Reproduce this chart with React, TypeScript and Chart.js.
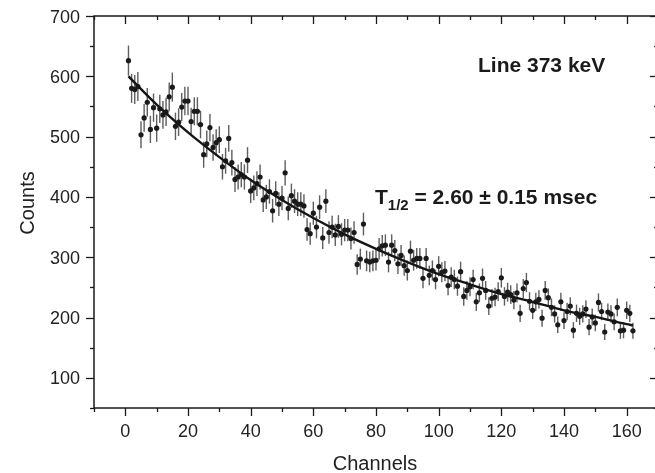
import React, { useEffect, useRef } from "react";
import { Chart, registerables } from "chart.js";
Chart.register(...registerables);

const channels = [
  1, 2, 3, 4, 5, 6, 7, 8, 9, 10, 11, 12, 13, 14, 15, 16, 17, 18, 19, 20,
  21, 22, 23, 24, 25, 26, 27, 28, 29, 30, 31, 32, 33, 34, 35, 36, 37, 38, 39, 40,
  41, 42, 43, 44, 45, 46, 47, 48, 49, 50, 51, 52, 53, 54, 55, 56, 57, 58, 59, 60,
  61, 62, 63, 64, 65, 66, 67, 68, 69, 70, 71, 72, 73, 74, 75, 76, 77, 78, 79, 80,
  81, 82, 83, 84, 85, 86, 87, 88, 89, 90, 91, 92, 93, 94, 95, 96, 97, 98, 99, 100,
  101, 102, 103, 104, 105, 106, 107, 108, 109, 110, 111, 112, 113, 114, 115, 116, 117, 118, 119, 120,
  121, 122, 123, 124, 125, 126, 127, 128, 129, 130, 131, 132, 133, 134, 135, 136, 137, 138, 139, 140,
  141, 142, 143, 144, 145, 146, 147, 148, 149, 150, 151, 152, 153, 154, 155, 156, 157, 158, 159, 160,
  161, 162,
];

const counts = [
  626, 580, 578, 583, 503, 531, 557, 512, 548, 514, 546, 536, 541, 566, 582, 517, 524, 549, 559, 559,
  525, 542, 542, 520, 470, 488, 515, 482, 490, 495, 450, 460, 497, 457, 429, 433, 437, 433, 461, 410,
  415, 422, 433, 395, 400, 409, 377, 406, 388, 398, 440, 381, 402, 393, 388, 388, 385, 346, 339, 373,
  350, 383, 332, 393, 341, 350, 337, 351, 338, 345, 345, 331, 341, 288, 297, 355, 294, 292, 294, 295,
  314, 319, 320, 292, 320, 311, 289, 303, 286, 278, 310, 295, 298, 298, 265, 298, 270, 278, 263, 285,
  275, 277, 253, 267, 263, 252, 276, 235, 245, 251, 263, 226, 241, 265, 245, 219, 232, 234, 243, 266,
  235, 242, 238, 229, 241, 207, 248, 258, 227, 212, 226, 230, 199, 245, 233, 217, 206, 188, 226, 195,
  210, 219, 179, 207, 202, 206, 214, 184, 201, 191, 225, 210, 176, 209, 206, 193, 217, 178, 179, 212,
  207, 178,
];

const fitX = [1, 10, 20, 30, 40, 50, 60, 70, 80, 90, 100, 110, 120, 130, 140, 150, 160, 162];
const fitY = [600, 553, 507, 466, 428, 395, 365, 338, 314, 292, 272, 255, 239, 226, 212, 201, 189, 187];

const xTicks = [0, 20, 40, 60, 80, 100, 120, 140, 160];
const xMinor = [-10, 10, 30, 50, 70, 90, 110, 130, 150, 170];
const yTicks = [100, 200, 300, 400, 500, 600, 700];
const yMinor = [50, 150, 250, 350, 450, 550, 650];

const FONT = '"Liberation Sans", Arial, Helvetica, sans-serif';

const framePlugin = {
  id: "frameAxes",
  beforeDatasetsDraw(chart: any) {
    const { ctx, scales } = chart;
    const x = scales.x;
    const y = scales.y;
    ctx.save();
    ctx.strokeStyle = "#5e5e5e";
    ctx.lineWidth = 1.4;
    counts.forEach((c, i) => {
      const px = x.getPixelForValue(channels[i]);
      const e = Math.sqrt(c);
      ctx.beginPath();
      ctx.moveTo(px, y.getPixelForValue(c + e));
      ctx.lineTo(px, y.getPixelForValue(c - e));
      ctx.stroke();
    });
    ctx.restore();
  },
  afterDraw(chart: any) {
    const { ctx, chartArea: a, scales } = chart;
    const x = scales.x;
    const y = scales.y;
    ctx.save();
    ctx.strokeStyle = "#1a1a1a";
    ctx.lineWidth = 1.5;
    ctx.strokeRect(a.left, a.top, a.right - a.left, a.bottom - a.top);
    ctx.lineWidth = 1.3;
    const line = (x1: number, y1: number, x2: number, y2: number) => {
      ctx.beginPath();
      ctx.moveTo(x1, y1);
      ctx.lineTo(x2, y2);
      ctx.stroke();
    };
    yTicks.forEach((v) => {
      const py = Math.round(y.getPixelForValue(v)) + 0.5;
      line(a.left - 8, py, a.left, py);
      line(a.right, py, a.right - 8, py);
    });
    yMinor.forEach((v) => {
      const py = Math.round(y.getPixelForValue(v)) + 0.5;
      line(a.left - 4, py, a.left, py);
      line(a.right, py, a.right - 4, py);
    });
    xTicks.forEach((v) => {
      const px = Math.round(x.getPixelForValue(v)) + 0.5;
      line(px, a.bottom, px, a.bottom + 8);
      line(px, a.top, px, a.top + 8);
    });
    xMinor.forEach((v) => {
      const px = Math.round(x.getPixelForValue(v)) + 0.5;
      line(px, a.bottom, px, a.bottom + 4);
      line(px, a.top, px, a.top + 4);
    });

    ctx.fillStyle = "#222";
    ctx.font = `18px ${FONT}`;
    ctx.textAlign = "right";
    ctx.textBaseline = "alphabetic";
    yTicks.forEach((v) => {
      ctx.fillText(String(v), 80, y.getPixelForValue(v) + 6.5);
    });
    ctx.textAlign = "center";
    xTicks.forEach((v) => {
      ctx.fillText(String(v), x.getPixelForValue(v), 437);
    });

    ctx.font = `20px ${FONT}`;
    ctx.fillText("Channels", 375, 469.5);
    ctx.save();
    ctx.translate(34, 203);
    ctx.rotate(-Math.PI / 2);
    ctx.fillText("Counts", 0, 0);
    ctx.restore();

    ctx.fillStyle = "#1a1a1a";
    ctx.textAlign = "left";
    ctx.font = `bold 21px ${FONT}`;
    ctx.fillText("Line 373 keV", 478, 72);

    let cx = 375;
    const base = 204;
    ctx.fillText("T", cx, base);
    cx += ctx.measureText("T").width;
    ctx.font = `bold 15px ${FONT}`;
    ctx.fillText("1/2", cx, base + 6);
    cx += ctx.measureText("1/2").width;
    ctx.font = `bold 21px ${FONT}`;
    ctx.fillText(" = 2.60 \u00b1 0.15 msec", cx, base);
    ctx.restore();
  },
};

export default function App() {
  const ref = useRef<HTMLCanvasElement | null>(null);
  useEffect(() => {
    if (!ref.current) return;
    const chart = new Chart(ref.current, {
      type: "scatter",
      data: {
        datasets: [
          {
            type: "scatter",
            data: channels.map((c, i) => ({ x: c, y: counts[i] })),
            pointRadius: 2.6,
            pointBackgroundColor: "#1a1a1a",
            pointBorderWidth: 0,
            borderWidth: 0,
            order: 2,
          } as any,
          {
            type: "line",
            data: fitX.map((v, i) => ({ x: v, y: fitY[i] })),
            borderColor: "#151515",
            borderWidth: 2.4,
            pointRadius: 0,
            tension: 0.4,
            cubicInterpolationMode: "monotone",
            fill: false,
            order: 1,
          } as any,
        ],
      },
      options: {
        animation: false,
        responsive: false,
        devicePixelRatio: 1,
        layout: { padding: { left: 94, right: 7, top: 16, bottom: 65 } },
        scales: {
          x: { type: "linear", min: -10, max: 170, display: false },
          y: { type: "linear", min: 50, max: 700, display: false },
        },
        plugins: { legend: { display: false }, tooltip: { enabled: false } },
      },
      plugins: [framePlugin],
    });
    return () => chart.destroy();
  }, []);
  return (
    <div
      style={{
        position: "fixed",
        left: 0,
        top: 0,
        width: 655,
        height: 473,
        overflow: "hidden",
        background: "#fff",
      }}
    >
      <canvas ref={ref} width={665} height={473} style={{ width: 665, height: 473, display: "block" }} />
    </div>
  );
}
